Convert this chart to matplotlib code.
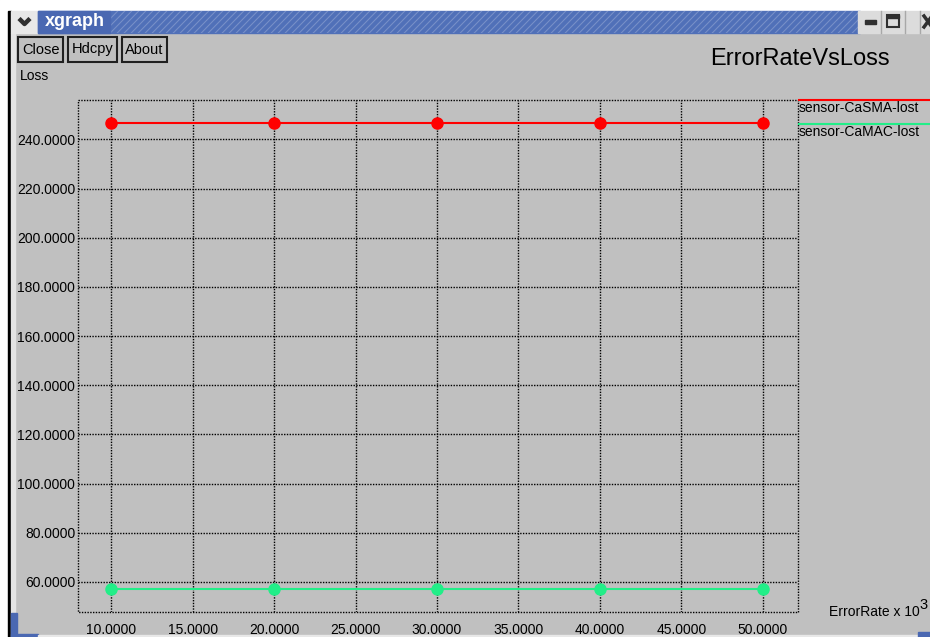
import matplotlib
matplotlib.use("Agg")
import matplotlib.pyplot as plt
from matplotlib.patches import Rectangle, Polygon

# ---- data ----
error_rate = [10, 20, 30, 40, 50]
casma_lost = [246.5, 246.5, 246.5, 246.5, 246.5]
camac_lost = [57.2, 57.2, 57.2, 57.2, 57.2]
series_names = ["sensor-CaSMA-lost", "sensor-CaMAC-lost"]
x_ticks = [10, 15, 20, 25, 30, 35, 40, 45, 50]
y_ticks = [60, 80, 100, 120, 140, 160, 180, 200, 220, 240]
title = "ErrorRateVsLoss"
window_title = "xgraph"
buttons = ["Close", "Hdcpy", "About"]

W, H = 930, 637
GRAY = "#c0c0c0"
RED = "#ff0000"
GREEN = "#22ee88"
FONT = "Liberation Sans"
DOT = (0, (1, 1))

fig = plt.figure(figsize=(W / 100, H / 100), dpi=100)
fig.patch.set_facecolor(GRAY)

# background / window decoration axes in pixel coordinates
bg = fig.add_axes([0, 0, 1, 1])
bg.set_xlim(0, W)
bg.set_ylim(H, 0)
bg.axis("off")
bg.add_patch(Rectangle((0, 0), W, H, color=GRAY, zorder=0))
bg.add_patch(Rectangle((0, 0), W, 11, color="white", zorder=1))
bg.add_patch(Rectangle((0, 0), 8, H, color="white", zorder=1))
bg.add_patch(Rectangle((8, 11), 3, H - 11, color="black", zorder=2))
bg.add_patch(Rectangle((11, 33), 4, H - 33, color="#e4e4e4", zorder=2))
# title bar
bg.add_patch(Rectangle((11, 11), 27, 22, color="#e8e8e8", zorder=2))
bg.plot([19, 24.5, 30], [18.5, 24, 18.5], color="#303030", lw=3.2,
        solid_capstyle="butt", zorder=3)
bg.add_patch(Rectangle((38, 11), 822, 22, color="#5070b8", zorder=2))
for sx in range(110, 880, 7):
    bg.add_patch(Polygon([(sx, 11), (sx + 1.5, 11), (sx - 20, 33), (sx - 21.5, 33)],
                         closed=True, color="#7890c8", zorder=2.5, lw=0))
bg.add_patch(Rectangle((38, 11), 72, 22, color="#4a68b2", zorder=2.6))
bg.add_patch(Rectangle((858, 11), 72, 22, color="#dcdcdc", zorder=2.7))
bg.text(45, 21, window_title, ha="left", va="center", fontsize=13, fontweight="bold",
        color="white", family=FONT, zorder=3)
# window buttons
bg.add_patch(Rectangle((865, 20), 11, 4, color="#303030", zorder=3))
bg.add_patch(Rectangle((887, 15), 12, 12, fill=False, ec="#303030", lw=1.5, zorder=3))
bg.add_patch(Rectangle((887, 15), 12, 3, color="#303030", zorder=3))
bg.plot([924, 932], [16, 27], color="#303030", lw=2.5, zorder=3)
bg.plot([924, 932], [27, 16], color="#303030", lw=2.5, zorder=3)
for bx in (881, 905, 920):
    bg.plot([bx, bx], [11, 33], color="#a8a8a8", lw=1, zorder=3)

# bottom decoration
bg.add_patch(Rectangle((11, 613), 6, 24, color="#4a68b2", zorder=2))
bg.add_patch(Rectangle((11, 634), 27, 3, color="#4a68b2", zorder=2))
bg.add_patch(Rectangle((38, 635), 880, 2, color="#e8e8e8", zorder=2))
bg.add_patch(Rectangle((918, 632), 12, 5, color="#4a68b2", zorder=2))

# buttons
bx0 = [18, 68, 122]
bx1 = [63, 117, 167]
for name, a, b in zip(buttons, bx0, bx1):
    bg.add_patch(Rectangle((a, 37), b - a, 25, fill=False, ec="#202020", lw=1.5, zorder=3))
    bg.text((a + b) / 2, 49.5, name, ha="center", va="center", fontsize=10.5,
            family=FONT, color="black", zorder=3)

# labels around plot
bg.text(20, 76, "Loss", ha="left", va="center", fontsize=10, family=FONT)
bg.text(710, 59, title, ha="left", va="center", fontsize=17, family=FONT)
bg.text(829, 612, "ErrorRate x 10", ha="left", va="center", fontsize=10, family=FONT)
bg.text(919, 605, "3", ha="left", va="center", fontsize=10.5, family=FONT)

# legend
bg.plot([799, W], [100, 100], color=RED, lw=1.5, zorder=3)
bg.plot([799, W], [124, 124], color=GREEN, lw=1.5, zorder=3)
bg.text(799, 108, series_names[0], ha="left", va="center", fontsize=10, family=FONT)
bg.text(799, 132, series_names[1], ha="left", va="center", fontsize=10, family=FONT)

# ---- plot area ----
L, R, T, B = 78, 798, 100, 612
ax = fig.add_axes([L / W, (H - B) / H, (R - L) / W, (B - T) / H])
ax.patch.set_alpha(0)
ax.set_xlim(7.95, 52.17)
ax.set_ylim(47.8, 256.0)
ax.set_xticks(x_ticks)
ax.set_yticks(y_ticks)
ax.set_xticklabels(["%.4f" % v for v in x_ticks], fontsize=10, family=FONT)
ax.set_yticklabels(["%.4f" % v for v in y_ticks], fontsize=10, family=FONT)
ax.tick_params(axis="both", length=0)
ax.tick_params(axis="x", pad=8)
ax.tick_params(axis="y", pad=2)
ax.grid(True, color="black", linestyle=DOT, linewidth=1)
ax.set_axisbelow(True)
for s in ax.spines.values():
    s.set_visible(False)
# dotted frame
bg.plot([L, R, R, L, L], [T, T, B, B, T], color="black", linestyle=DOT, lw=1, zorder=1.5)

ax.plot(error_rate, casma_lost, color=RED, lw=1.5, marker="o", markersize=8,
        zorder=4, clip_on=False)
ax.plot(error_rate, camac_lost, color=GREEN, lw=1.5, marker="o", markersize=8,
        zorder=4, clip_on=False)

fig.savefig("out.png", dpi=100, facecolor=GRAY)
